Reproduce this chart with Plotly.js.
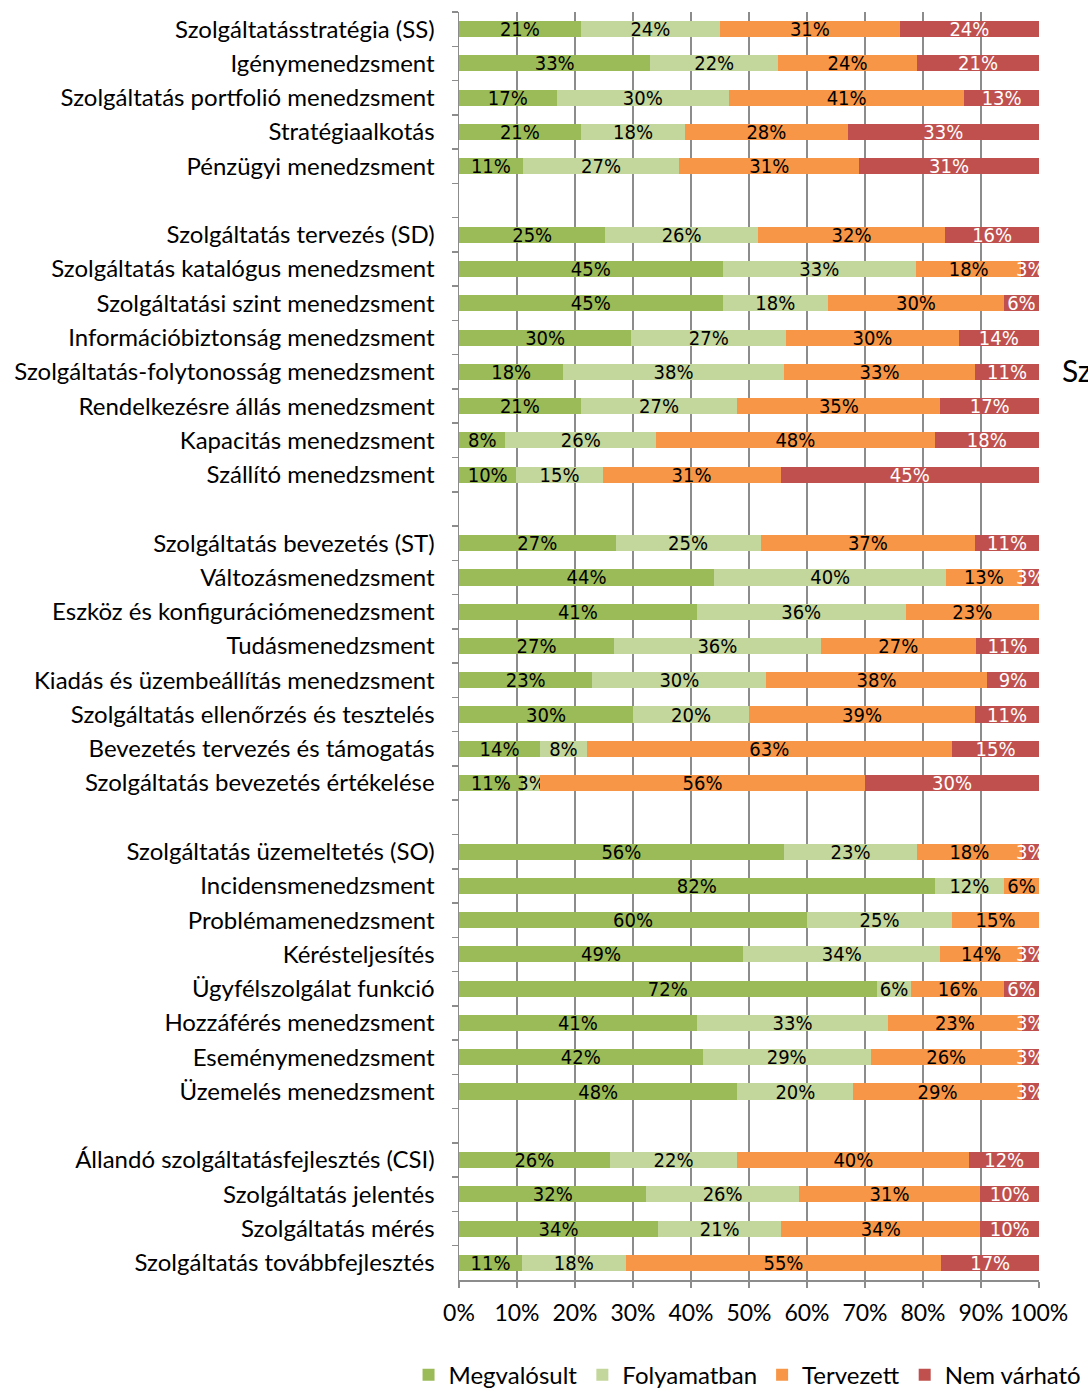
<!DOCTYPE html>
<html>
<head>
<meta charset="utf-8">
<script src="https://cdn.plot.ly/plotly-3.0.1.min.js"></script>
<style>html,body{margin:0;padding:0;background:#fff;}#chart{width:1088px;height:1389px;}</style>
</head>
<body>
<div id="chart"></div>
<script>
// Groups of categories (top to bottom); a gap row separates groups
const groupSS = ["Szolgáltatásstratégia (SS)", "Igénymenedzsment", "Szolgáltatás portfolió menedzsment", "Stratégiaalkotás", "Pénzügyi menedzsment"];
const groupSD = ["Szolgáltatás tervezés (SD)", "Szolgáltatás katalógus menedzsment", "Szolgáltatási szint menedzsment", "Információbiztonság menedzsment", "Szolgáltatás-folytonosság menedzsment", "Rendelkezésre állás menedzsment", "Kapacitás menedzsment", "Szállító menedzsment"];
const groupST = ["Szolgáltatás bevezetés (ST)", "Változásmenedzsment", "Eszköz és konfigurációmenedzsment", "Tudásmenedzsment", "Kiadás és üzembeállítás menedzsment", "Szolgáltatás ellenőrzés és tesztelés", "Bevezetés tervezés és támogatás", "Szolgáltatás bevezetés értékelése"];
const groupSO = ["Szolgáltatás üzemeltetés (SO)", "Incidensmenedzsment", "Problémamenedzsment", "Kérésteljesítés", "Ügyfélszolgálat funkció", "Hozzáférés menedzsment", "Eseménymenedzsment", "Üzemelés menedzsment"];
const groupCSI = ["Állandó szolgáltatásfejlesztés (CSI)", "Szolgáltatás jelentés", "Szolgáltatás mérés", "Szolgáltatás továbbfejlesztés"];

// Values (%) per category, same order as above
const megvalosult = [21,33,17,21,11, 25,45,45,30,18,21,8,10, 27,44,41,27,23,30,14,11, 56,82,60,49,72,41,42,48, 26,32,34,11];
const folyamatban = [24,22,30,18,27, 26,33,18,27,38,27,26,15, 25,40,36,36,30,20,8,3, 23,12,25,34,6,33,29,20, 22,26,21,18];
const tervezett   = [31,24,41,28,31, 32,18,30,30,33,35,48,31, 37,13,23,27,38,39,63,56, 18,6,15,14,16,23,26,29, 40,31,34,55];
const nemVarhato  = [24,21,13,33,31, 16,3,6,14,11,17,18,45, 11,3,0,11,9,11,15,30, 3,0,0,3,6,3,3,3, 12,10,10,17];

const seriesNames = ["Megvalósult", "Folyamatban", "Tervezett", "Nem várható"];
const xTickLabels = ["0%","10%","20%","30%","40%","50%","60%","70%","80%","90%","100%"];
const sideText = "Szolgáltatás";

const colors = ["#9BBB59", "#C3D69B", "#F79646", "#C0504D"];
const textColors = ["#000000", "#000000", "#000000", "#ffffff"];

// Build y categories with gap rows between groups
const groups = [groupSS, groupSD, groupST, groupSO, groupCSI];
const yCats = [];
const isGap = [];
groups.forEach((g, gi) => {
  g.forEach(c => { yCats.push(c); isGap.push(false); });
  if (gi < groups.length - 1) { yCats.push(" ".repeat(gi + 1)); isGap.push(true); }
});

function expand(vals) {
  const out = []; let k = 0;
  isGap.forEach(gp => { if (gp) out.push(null); else out.push(vals[k++]); });
  return out;
}

const allVals = [megvalosult, folyamatban, tervezett, nemVarhato];
const traces = allVals.map((vals, i) => {
  const xs = expand(vals);
  return {
    type: "bar",
    orientation: "h",
    name: seriesNames[i],
    y: yCats,
    x: xs,
    text: xs.map(v => (v === null || v === 0) ? "" : v + "%"),
    textposition: "inside",
    insidetextanchor: "middle",
    textangle: 0,
    constraintext: "none",
    cliponaxis: false,
    textfont: {family: "Liberation Sans Narrow, DejaVu Sans Condensed, sans-serif", size: 20, color: textColors[i]},
    marker: {color: colors[i], line: {width: 0}},
    hoverinfo: "skip"
  };
});

const layout = {
  width: 1088,
  height: 1389,
  margin: {l: 459, r: 49, t: 12, b: 109, autoexpand: false},
  barmode: "stack",
  barnorm: "percent",
  bargap: 0.53,
  paper_bgcolor: "#ffffff",
  plot_bgcolor: "#ffffff",
  font: {family: "Lato, Open Sans, sans-serif", color: "#000000"},
  showlegend: true,
  legend: {
    orientation: "h",
    x: -0.087, xanchor: "left",
    y: -0.075, yanchor: "middle",
    font: {size: 24, family: "Lato, sans-serif", color: "#000"},
    itemwidth: 30,
    traceorder: "normal"
  },
  xaxis: {
    range: [0, 100.0001],
    tickmode: "array",
    tickvals: xTickLabels.map((t, i) => i * 10),
    ticktext: xTickLabels,
    showgrid: true,
    gridcolor: "#8c8c8c",
    gridwidth: 1.5,
    zeroline: false,
    showline: true,
    linecolor: "#8c8c8c",
    linewidth: 1.5,
    ticks: "outside",
    ticklen: 6,
    tickcolor: "#8c8c8c",
    tickwidth: 1.5,
    ticklabelstandoff: 6,
    tickfont: {size: 23, family: "Lato, sans-serif", color: "#000"},
    fixedrange: true
  },
  yaxis: {
    type: "category",
    categoryorder: "array",
    categoryarray: yCats,
    autorange: "reversed",
    tickson: "boundaries",
    ticks: "outside",
    ticklen: 6,
    tickcolor: "#8c8c8c",
    tickwidth: 1.5,
    showgrid: false,
    showline: true,
    linecolor: "#8c8c8c",
    linewidth: 1.5,
    ticklabelstandoff: 18,
    tickfont: {size: 24, family: "Lato, sans-serif", color: "#000"},
    fixedrange: true
  },
  annotations: [{
    text: sideText,
    xref: "paper", yref: "paper",
    x: 1.036, y: 0.718,
    xanchor: "left", yanchor: "middle",
    showarrow: false,
    font: {size: 30, family: "Lato, sans-serif", color: "#000"}
  }]
};

Plotly.newPlot("chart", traces, layout, {displayModeBar: false, staticPlot: true});
</script>
</body>
</html>
